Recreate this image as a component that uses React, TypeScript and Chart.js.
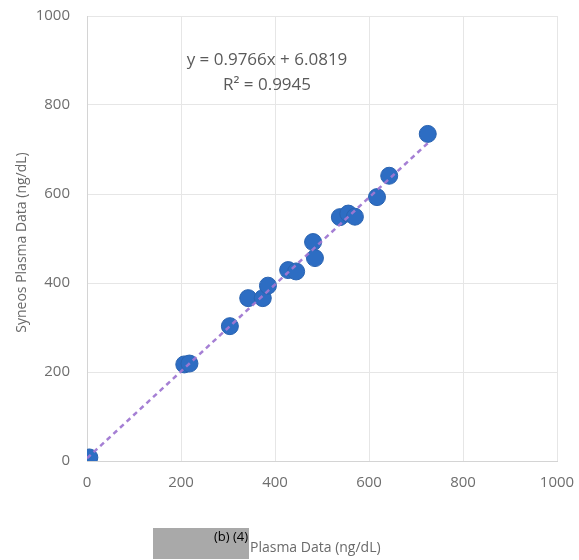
import React, { useEffect, useRef } from "react";
import { Chart, registerables } from "chart.js";

Chart.register(...registerables);

const plasmaX: number[] = [5, 207, 218, 304, 343, 374, 385, 428, 445, 481, 485, 538, 556, 570, 617, 643, 725];
const syneosY: number[] = [8, 217, 219, 303, 366, 366, 394, 429, 426, 492, 456, 548, 556, 549, 593, 641, 735];
const slope = 0.9766;
const intercept = 6.0819;
const equationText = "y = 0.9766x + 6.0819";
const r2Text = "R² = 0.9945";
const xTitle = "Plasma Data (ng/dL)";
const redactText = "(b) (4)";
const yTitle = "Syneos Plasma Data (ng/dL)";
const axisMin = 0;
const axisMax = 1000;
const axisStep = 200;

const FONT = "'Open Sans', 'DejaVu Sans', sans-serif";

export default function App() {
  const ref = useRef<HTMLCanvasElement | null>(null);
  useEffect(() => {
    document.body.style.margin = "0";
    const canvas = ref.current;
    if (!canvas) return;
    const points = plasmaX.map((x, i) => ({ x, y: syneosY[i] }));
    const xs = [Math.min(...plasmaX), Math.max(...plasmaX)];
    const trend = [0, xs[1]].map((x) => ({ x, y: slope * x + intercept }));

    const annot = {
      id: "annot",
      afterDraw(chart: any) {
        const ctx = chart.ctx as CanvasRenderingContext2D;
        const a = chart.chartArea;
        ctx.save();
        ctx.fillStyle = "#5a5a5a";
        ctx.font = `17px ${FONT}`;
        ctx.textAlign = "center";
        ctx.textBaseline = "middle";
        ctx.fillText(equationText, 267, 60);
        ctx.fillText(r2Text, 267, 85);
        ctx.save();
        ctx.translate(22, (a.top + a.bottom) / 2 + 4);
        ctx.rotate(-Math.PI / 2);
        ctx.font = `14px ${FONT}`;
        ctx.fillStyle = "#6a6a6a";
        ctx.fillText(yTitle, 0, 0);
        ctx.restore();
        ctx.fillStyle = "#a9a9a9";
        ctx.fillRect(153, 528, 96, 31);
        ctx.fillStyle = "#000000";
        ctx.font = `13px ${FONT}`;
        ctx.textAlign = "right";
        ctx.fillText(redactText, 248, 537);
        ctx.fillStyle = "#6a6a6a";
        ctx.font = `14px ${FONT}`;
        ctx.textAlign = "left";
        ctx.fillText(xTitle, 250, 548);
        ctx.restore();
      },
    };

    const fmt = (v: any) => String(v);
    const zeroPad = (s: any) => {
      s.paddingTop = 0;
      s.paddingBottom = 0;
      s.paddingLeft = 0;
      s.paddingRight = 0;
    };

    const chart = new Chart(canvas, {
      type: "scatter",
      data: {
        datasets: [
          {
            type: "line",
            label: "trend",
            data: trend,
            borderColor: "rgba(160,120,210,0.95)",
            borderWidth: 2.5,
            borderDash: [5, 4],
            pointRadius: 0,
            fill: false,
            order: 0,
          } as any,
          {
            label: "data",
            data: points,
            backgroundColor: "#2d6dc3",
            borderColor: "#2a63b0",
            borderWidth: 1,
            pointRadius: 8.5,
            order: 1,
          },
        ],
      },
      options: {
        animation: false,
        responsive: false,
        devicePixelRatio: 1,
        layout: { padding: { top: 16, right: 22, bottom: 0, left: 0 } },
        plugins: { legend: { display: false }, tooltip: { enabled: false } },
        scales: {
          x: {
            type: "linear",
            min: axisMin,
            max: axisMax,
            ticks: { stepSize: axisStep, color: "#6e6e6e", font: { family: FONT, size: 15 }, padding: 13, callback: fmt },
            grid: { color: "#e6e6e6", drawTicks: false },
            border: { color: "#d4d4d4" },
            afterFit: (s: any) => {
              s.height = 99;
              zeroPad(s);
            },
          },
          y: {
            type: "linear",
            min: axisMin,
            max: axisMax,
            ticks: { stepSize: axisStep, color: "#6e6e6e", font: { family: FONT, size: 15 }, padding: 17, callback: fmt },
            grid: { color: "#e6e6e6", drawTicks: false },
            border: { color: "#d4d4d4" },
            afterFit: (s: any) => {
              s.width = 87;
              zeroPad(s);
            },
          },
        },
      },
      plugins: [annot],
    });
    return () => chart.destroy();
  }, []);
  return (
    <div style={{ position: "absolute", left: 0, top: 0, width: 579, height: 560, background: "#fff" }}>
      <canvas ref={ref} width={579} height={560} style={{ width: 579, height: 560, display: "block" }} />
    </div>
  );
}
